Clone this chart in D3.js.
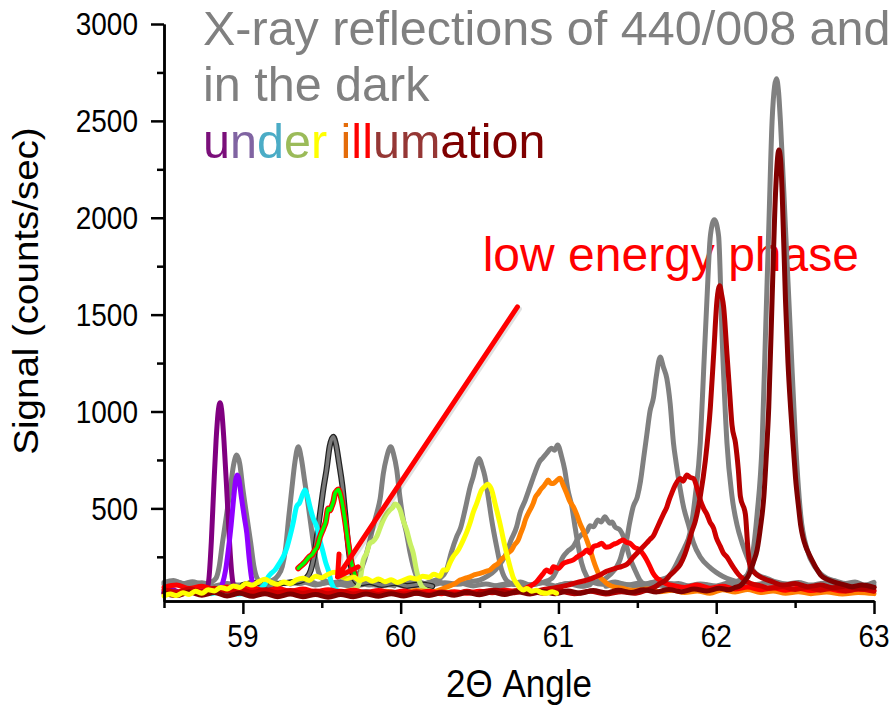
<!DOCTYPE html>
<html><head><meta charset="utf-8">
<script src="https://cdn.jsdelivr.net/npm/d3@7"></script>
<style>body{margin:0;background:#fff}svg{display:block}text{font-family:"Liberation Sans",Arial,Helvetica,sans-serif}</style>
</head><body><svg id="c" width="895" height="708"></svg>
<script>
// ---------- tick labels ----------
const xMajorTicks = [59, 60, 61, 62, 63];
const xMinorTicks = [58.5, 59.5, 60.5, 61.5, 62.5];
const yMajorTicks = [500, 1000, 1500, 2000, 2500, 3000];
const yMinorTicks = [250, 750, 1250, 1750, 2250, 2750];

// ---------- dark (grey) scans: [2theta, counts] ----------
const darkA = [[58.50,118],[58.56,128],[58.62,112],[58.68,122],[58.74,110],[58.80,120],[58.83,140],[58.85,200],[58.87,320],[58.89,430],[58.92,600],[58.94,720],[58.961,775],[58.98,730],[59.00,600],[59.03,430],[59.05,320],[59.07,200],[59.09,140],[59.12,118],[59.18,125],[59.24,110],[59.30,120],[59.36,112],[59.42,124],[59.48,108],[59.54,118],[59.60,105],[59.66,115],[59.72,102],[59.80,112],[59.88,100],[59.96,108],[60.04,98],[60.12,104],[60.20,96]];
const darkB = [[58.50,108],[58.58,120],[58.66,104],[58.74,116],[58.82,100],[58.90,112],[58.98,104],[59.06,118],[59.12,110],[59.18,125],[59.22,150],[59.25,200],[59.27,290],[59.29,450],[59.31,600],[59.33,740],[59.351,818],[59.37,760],[59.39,650],[59.41,540],[59.43,420],[59.45,300],[59.47,200],[59.49,150],[59.52,128],[59.56,115],[59.62,122],[59.68,108],[59.74,118],[59.80,104],[59.88,112],[59.96,100]];
const darkC = [[59.00,105],[59.08,115],[59.16,100],[59.24,112],[59.30,118],[59.36,125],[59.40,140],[59.43,180],[59.45,250],[59.47,360],[59.49,480],[59.51,600],[59.53,700],[59.55,820],[59.573,870],[59.59,830],[59.61,730],[59.63,620],[59.65,460],[59.67,290],[59.69,180],[59.71,130],[59.74,112],[59.80,120],[59.88,105],[59.96,115],[60.04,100],[60.12,108],[60.20,98]];
const darkD = [[59.30,110],[59.38,120],[59.46,105],[59.54,118],[59.60,110],[59.66,125],[59.70,140],[59.74,170],[59.77,230],[59.80,320],[59.83,420],[59.85,480],[59.87,550],[59.89,680],[59.91,760],[59.937,818],[59.955,780],[59.975,700],[59.995,560],[60.015,450],[60.035,380],[60.06,270],[60.08,200],[60.10,150],[60.13,118],[60.18,108],[60.24,120],[60.30,104],[60.38,114],[60.46,100],[60.54,110],[60.62,98],[60.70,108],[60.80,96]];
const darkE = [[59.60,112],[59.68,100],[59.76,115],[59.84,104],[59.92,118],[60.00,108],[60.08,120],[60.14,110],[60.20,125],[60.25,140],[60.29,180],[60.32,270],[60.355,354],[60.38,400],[60.41,500],[60.44,610],[60.46,664],[60.48,730],[60.498,758],[60.515,720],[60.534,664],[60.555,560],[60.577,440],[60.608,303],[60.64,182],[60.67,130],[60.71,112],[60.76,120],[60.82,105],[60.90,116],[60.98,100],[61.06,112],[61.14,98],[61.20,106]];
const darkF = [[60.20,104],[60.28,116],[60.36,108],[60.44,122],[60.50,130],[60.55,150],[60.60,182],[60.64,225],[60.67,268],[60.70,337],[60.735,405],[60.756,475],[60.79,543],[60.82,612],[60.85,681],[60.88,741],[60.90,760],[60.925,784],[60.957,810],[60.975,800],[60.995,827],[61.02,767],[61.04,698],[61.06,595],[61.085,509],[61.105,405],[61.126,303],[61.147,217],[61.18,147],[61.22,118],[61.28,108],[61.36,120],[61.44,104],[61.52,115],[61.60,100],[61.70,110],[61.80,98]];
const darkG = [[60.60,100],[60.70,112],[60.80,104],[60.90,118],[60.96,140],[61.00,200],[61.03,251],[61.06,280],[61.094,303],[61.12,340],[61.157,371],[61.18,380],[61.20,410],[61.221,405],[61.25,440],[61.27,430],[61.295,457],[61.31,440],[61.326,423],[61.34,430],[61.358,405],[61.39,388],[61.42,337],[61.45,251],[61.485,182],[61.516,130],[61.55,110],[61.60,118],[61.68,100],[61.76,112],[61.84,96],[61.92,106],[62.00,94],[62.10,104],[62.20,92]];
const darkH = [[61.00,102],[61.08,114],[61.16,100],[61.22,118],[61.28,130],[61.33,160],[61.37,200],[61.39,234],[61.41,290],[61.432,337],[61.45,420],[61.474,509],[61.50,560],[61.52,640],[61.54,760],[61.56,880],[61.58,1000],[61.602,1070],[61.62,1180],[61.645,1281],[61.665,1230],[61.687,1170],[61.708,1041],[61.729,838],[61.745,740],[61.761,654],[61.793,507],[61.825,414],[61.856,322],[61.899,249],[61.963,193],[62.00,170],[62.04,150],[62.10,130],[62.16,118],[62.24,106],[62.32,115],[62.40,100],[62.50,110],[62.60,95],[62.70,104],[62.80,92],[62.90,100],[63.00,94]];
const darkI = [[61.30,98],[61.40,110],[61.50,100],[61.58,114],[61.64,130],[61.70,150],[61.74,200],[61.77,250],[61.80,300],[61.835,378],[61.867,562],[61.899,838],[61.92,1207],[61.941,1575],[61.963,1907],[61.988,1990],[62.015,1907],[62.037,1391],[62.068,838],[62.10,562],[62.132,414],[62.164,322],[62.196,249],[62.238,175],[62.28,150],[62.323,138],[62.38,120],[62.45,110],[62.52,118],[62.60,104],[62.68,114],[62.76,100],[62.84,110],[62.92,98],[63.00,104]];
const darkJ = [[61.60,100],[61.70,112],[61.80,98],[61.90,110],[62.00,100],[62.06,112],[62.12,120],[62.16,135],[62.196,156],[62.228,249],[62.259,469],[62.291,838],[62.312,1391],[62.333,1944],[62.354,2497],[62.37,2680],[62.382,2718],[62.395,2650],[62.407,2497],[62.439,1944],[62.471,1391],[62.503,838],[62.535,469],[62.577,285],[62.63,193],[62.704,138],[62.76,125],[62.82,112],[62.88,120],[62.94,104],[63.00,118]];

// ---------- illuminated scans ----------
const litPurple = [[58.50,70],[58.55,82],[58.60,66],[58.65,78],[58.70,64],[58.74,75],[58.77,80],[58.785,140],[58.80,330],[58.815,600],[58.83,850],[58.845,1010],[58.855,1045],[58.865,1010],[58.88,850],[58.90,560],[58.915,330],[58.93,160],[58.945,90],[58.97,72],[59.02,80],[59.08,66],[59.14,76],[59.20,62],[59.28,72],[59.36,60],[59.44,70],[59.52,58],[59.60,66]];
const litViolet = [[58.50,62],[58.56,74],[58.62,60],[58.68,70],[58.74,58],[58.80,68],[58.84,72],[58.87,110],[58.89,180],[58.91,300],[58.925,410],[58.94,540],[58.955,650],[58.964,672],[58.975,650],[58.99,560],[59.01,450],[59.025,370],[59.04,240],[59.055,140],[59.07,90],[59.10,70],[59.16,78],[59.22,64],[59.30,72],[59.38,60],[59.46,68],[59.54,58],[59.62,66],[59.70,56],[59.80,62]];
const litCyan = [[58.80,60],[58.88,70],[58.96,58],[59.04,66],[59.10,80],[59.14,110],[59.161,147],[59.18,165],[59.203,182],[59.23,215],[59.256,251],[59.28,300],[59.298,354],[59.32,430],[59.34,509],[59.36,530],[59.38,575],[59.394,595],[59.41,560],[59.425,509],[59.445,450],[59.468,405],[59.49,330],[59.51,268],[59.525,220],[59.541,182],[59.56,120],[59.58,85],[59.62,70],[59.70,62],[59.78,70],[59.86,58],[59.94,66],[60.00,60]];
const litGreen = [[59.351,191],[59.37,205],[59.39,220],[59.404,234],[59.42,250],[59.44,262],[59.457,285],[59.47,300],[59.489,354],[59.51,397],[59.525,430],[59.541,500],[59.552,490],[59.562,509],[59.575,540],[59.584,578],[59.595,590],[59.605,598],[59.615,580],[59.626,543],[59.647,440],[59.668,320],[59.689,217],[59.71,156]];
const litLime = [[59.50,70],[59.58,62],[59.66,74],[59.72,90],[59.745,140],[59.763,234],[59.784,268],[59.805,320],[59.825,330],[59.848,354],[59.87,400],[59.89,440],[59.91,470],[59.93,490],[59.95,505],[59.964,523],[59.98,515],[59.996,492],[60.015,440],[60.038,388],[60.06,320],[60.08,268],[60.10,182],[60.12,120],[60.15,85],[60.20,72],[60.26,64],[60.32,70]];
const litYellow = [[58.50,48],[58.54,58],[58.58,50],[58.62,64],[58.66,56],[58.70,72],[58.74,62],[58.78,80],[58.82,74],[58.86,92],[58.90,84],[58.94,100],[58.98,92],[59.02,112],[59.06,104],[59.10,122],[59.14,134],[59.18,118],[59.22,108],[59.26,120],[59.30,112],[59.34,132],[59.38,140],[59.42,128],[59.46,150],[59.50,142],[59.54,160],[59.58,170],[59.62,150],[59.66,138],[59.70,146],[59.74,128],[59.78,138],[59.82,124],[59.86,136],[59.90,122],[59.94,132],[59.98,118],[60.02,130],[60.06,142],[60.10,136],[60.14,150],[60.18,144],[60.21,160],[60.25,150],[60.27,182],[60.292,182],[60.31,215],[60.333,251],[60.365,285],[60.397,337],[60.42,380],[60.439,423],[60.46,480],[60.482,526],[60.513,595],[60.53,610],[60.551,624],[60.565,615],[60.577,595],[60.598,526],[60.629,423],[60.661,303],[60.693,199],[60.715,140],[60.735,113],[60.755,90],[60.777,79],[60.80,86],[60.83,72],[60.861,78],[60.89,66],[60.925,62],[60.96,70],[60.988,62]];
const litOrange = [[59.80,60],[59.90,72],[60.00,62],[60.10,76],[60.20,68],[60.28,90],[60.34,110],[60.376,130],[60.41,140],[60.439,147],[60.47,158],[60.503,165],[60.54,175],[60.566,182],[60.59,200],[60.619,217],[60.64,238],[60.661,251],[60.68,270],[60.703,285],[60.72,310],[60.745,337],[60.76,370],[60.777,405],[60.79,440],[60.809,475],[60.825,500],[60.84,526],[60.855,560],[60.872,578],[60.89,600],[60.904,612],[60.92,630],[60.935,646],[60.95,630],[60.967,629],[60.985,640],[61.01,655],[61.03,620],[61.052,578],[61.07,540],[61.094,509],[61.115,470],[61.136,423],[61.16,380],[61.179,337],[61.20,290],[61.221,234],[61.24,190],[61.263,147],[61.29,125],[61.305,113],[61.34,98],[61.40,88],[61.48,76],[61.56,84],[61.64,70],[61.72,78],[61.80,66],[61.88,74],[61.96,62],[62.04,80],[62.12,68],[62.20,82],[62.28,66],[62.36,74],[62.44,62],[62.52,70],[62.60,60],[62.70,68],[62.80,58],[62.90,66],[63.00,60]];
const litRed = [[58.50,92],[58.58,104],[58.66,86],[58.74,98],[58.82,82],[58.90,94],[58.98,78],[59.06,90],[59.14,74],[59.22,86],[59.30,72],[59.38,84],[59.46,70],[59.54,80],[59.62,68],[59.70,78],[59.78,66],[59.86,76],[59.94,64],[60.02,74],[60.10,62],[60.18,72],[60.26,60],[60.34,70],[60.42,62],[60.50,72],[60.58,64],[60.66,78],[60.74,70],[60.80,90],[60.86,120],[60.90,160],[60.925,182],[60.95,170],[60.967,199],[61.00,190],[61.03,215],[61.06,225],[61.094,234],[61.12,250],[61.157,268],[61.18,285],[61.20,270],[61.221,303],[61.25,310],[61.274,320],[61.30,300],[61.326,303],[61.35,315],[61.369,320],[61.39,330],[61.411,337],[61.43,325],[61.453,320],[61.48,300],[61.516,285],[61.54,260],[61.559,234],[61.58,200],[61.60,165],[61.624,140],[61.643,130],[61.68,112],[61.74,100],[61.80,92],[61.88,104],[61.96,88],[62.04,98],[62.12,84],[62.20,94],[62.28,80],[62.36,90],[62.44,78],[62.52,88],[62.60,76],[62.70,86],[62.80,74],[62.90,84],[63.00,78]];
const litCrimson = [[58.50,80],[58.58,68],[58.66,84],[58.74,70],[58.82,88],[58.90,72],[58.98,84],[59.06,66],[59.14,80],[59.22,64],[59.30,76],[59.38,62],[59.46,74],[59.54,60],[59.62,72],[59.70,58],[59.78,70],[59.86,56],[59.94,68],[60.02,58],[60.10,70],[60.18,56],[60.26,68],[60.34,58],[60.42,72],[60.50,60],[60.58,74],[60.66,62],[60.74,76],[60.82,66],[60.90,80],[60.98,90],[61.06,104],[61.12,118],[61.18,130],[61.24,148],[61.263,156],[61.305,175],[61.369,193],[61.40,200],[61.433,211],[61.475,249],[61.517,285],[61.56,322],[61.58,340],[61.602,359],[61.62,390],[61.644,433],[61.665,470],[61.687,507],[61.70,540],[61.719,580],[61.74,620],[61.772,654],[61.79,640],[61.814,672],[61.835,660],[61.856,654],[61.88,600],[61.899,543],[61.92,500],[61.941,469],[61.96,430],[61.984,396],[62.00,350],[62.026,304],[62.045,270],[62.068,249],[62.09,220],[62.111,193],[62.14,160],[62.18,130],[62.22,112],[62.28,100],[62.34,88],[62.42,96],[62.50,82],[62.58,92],[62.66,78],[62.74,88],[62.82,74],[62.90,84],[63.00,72]];
const litDarkRed = [[60.50,66],[60.60,78],[60.70,64],[60.80,76],[60.90,62],[61.00,74],[61.10,60],[61.20,72],[61.30,58],[61.40,70],[61.48,62],[61.55,76],[61.60,90],[61.64,110],[61.68,130],[61.708,156],[61.74,180],[61.772,211],[61.80,260],[61.825,322],[61.845,380],[61.867,433],[61.899,562],[61.931,746],[61.963,1023],[61.984,1299],[62.005,1575],[62.022,1649],[62.035,1600],[62.047,1539],[62.068,1299],[62.085,1100],[62.10,930],[62.122,838],[62.14,700],[62.153,562],[62.185,469],[62.20,300],[62.217,193],[62.24,170],[62.259,156],[62.30,138],[62.36,120],[62.42,104],[62.50,112],[62.58,96],[62.66,104],[62.74,90],[62.82,98],[62.90,86],[63.00,92]];
const litMaroon = [[58.50,62],[58.58,50],[58.66,68],[58.74,52],[58.82,66],[58.90,48],[58.98,62],[59.06,46],[59.14,60],[59.22,44],[59.30,58],[59.38,44],[59.46,56],[59.54,42],[59.62,56],[59.70,44],[59.78,58],[59.86,46],[59.94,60],[60.02,48],[60.10,62],[60.18,50],[60.26,64],[60.34,52],[60.42,66],[60.50,54],[60.58,68],[60.66,56],[60.74,70],[60.82,58],[60.90,72],[60.98,60],[61.06,74],[61.14,62],[61.22,76],[61.30,64],[61.38,78],[61.46,66],[61.54,80],[61.62,68],[61.70,82],[61.78,70],[61.86,84],[61.94,74],[62.02,88],[62.08,80],[62.12,92],[62.153,101],[62.18,125],[62.206,156],[62.235,220],[62.259,285],[62.28,400],[62.302,562],[62.318,780],[62.333,1023],[62.354,1575],[62.376,2128],[62.397,2350],[62.408,2300],[62.418,2128],[62.439,1575],[62.455,1250],[62.471,1023],[62.49,800],[62.503,654],[62.52,520],[62.535,414],[62.55,350],[62.567,304],[62.585,270],[62.609,230],[62.635,190],[62.662,156],[62.70,135],[62.747,120],[62.80,108],[62.86,96],[62.92,104],[63.00,92]];

// annotation arrow (data coords): from [2theta, counts] to [2theta, counts]
const arrowFrom = [60.74, 1540];
const arrowTo = [59.60, 146];
const notePos = [60.52, 1725];

// ---------- styles ----------
const darkSeries = [darkA, darkB, darkD, darkE, darkF, darkG, darkH, darkI, darkJ];
const litSeries = [
  {d: litPurple, c: "#800080"},
  {d: litViolet, c: "#9000FF"},
  {d: litCyan, c: "#00FFFF"},
  {d: litLime, c: "#C8F064"},
  {d: litOrange, c: "#FF8000"},
  {d: litRed, c: "#FF0000"},
  {d: litCrimson, c: "#D00000"},
  {d: litDarkRed, c: "#B00000"},
  {d: litMaroon, c: "#800000"}
];
const titleLetters = [["u","#7A0F7A"],["n","#8064A2"],["d","#4BACC6"],["e","#9BBB59"],["r","#FFFF00"],[" ","#000"],["i","#E46C0A"],["l","#FF0000"],["l","#FF0000"],["u","#953735"],["m","#953735"],["ation","#7F0000"]];

const svg = d3.select("#c");
const x = d3.scaleLinear([58.5, 63], [164, 874]);
const y = d3.scaleLinear([22, 3000], [601, 24]);

// title (overlay text)
const title = svg.append("g").attr("font-size", 48.5);
title.append("text").attr("x", 203).attr("y", 45).attr("fill", "#808080").text("X-ray reflections of 440/008 and");
title.append("text").attr("x", 203).attr("y", 101).attr("fill", "#808080").text("in the dark");
const t3 = title.append("text").attr("x", 203).attr("y", 158).attr("xml:space", "preserve");
titleLetters.forEach(([s, c]) => t3.append("tspan").attr("fill", c).text(s));

// note text
svg.append("text").attr("x", x(notePos[0])).attr("y", y(notePos[1])).attr("font-size", 48).attr("fill", "#FF0000").text("low energy phase");

// curves
const line = d3.line().x(d => x(d[0])).y(d => y(d[1])).curve(d3.curveMonotoneX);
const gCurves = svg.append("g").attr("fill", "none").attr("stroke-linejoin", "round").attr("stroke-linecap", "round");
darkSeries.forEach(s => gCurves.append("path").attr("d", line(s)).attr("stroke", "#808080").attr("stroke-width", 5));
gCurves.append("path").attr("d", line(darkC)).attr("stroke", "#222").attr("stroke-width", 6);
gCurves.append("path").attr("d", line(darkC)).attr("stroke", "#7a7a7a").attr("stroke-width", 3.5);
litSeries.forEach((s, i) => {
  if (i === 3) {
    gCurves.append("path").attr("d", line(litGreen)).attr("stroke", "#FF0000").attr("stroke-width", 6);
    gCurves.append("path").attr("d", line(litGreen)).attr("stroke", "#00FF00").attr("stroke-width", 3.5);
  }
  gCurves.append("path").attr("d", line(s.d)).attr("stroke", s.c).attr("stroke-width", 5);
});
gCurves.append("path").attr("d", line(litYellow)).attr("stroke", "#FFFF00").attr("stroke-width", 5);

// axes
const xa = svg.append("g").attr("transform", "translate(0,601)");
xa.call(d3.axisBottom(x).tickValues(xMajorTicks).tickSize(13).tickSizeOuter(0).tickFormat(""));
xa.append("g").call(d3.axisBottom(x).tickValues(xMinorTicks).tickSize(7).tickSizeOuter(0).tickFormat(""));
const ya = svg.append("g").attr("transform", "translate(164,0)");
ya.call(d3.axisLeft(y).tickValues(yMajorTicks).tickSize(13).tickSizeOuter(0).tickFormat(""));
ya.append("g").call(d3.axisLeft(y).tickValues(yMinorTicks).tickSize(7).tickSizeOuter(0).tickFormat(""));
svg.selectAll(".domain, .tick line").attr("stroke", "#000").attr("stroke-width", 2.5);

// tick labels (slightly stretched vertically like the source)
xMajorTicks.forEach(v => svg.append("text").attr("text-anchor", "middle").attr("font-size", 28)
  .attr("transform", `translate(${x(v)},647) scale(1,1.12)`).text(v));
yMajorTicks.forEach(v => svg.append("text").attr("text-anchor", "end").attr("font-size", 28).attr("dy", "0.36em")
  .attr("transform", `translate(138,${y(v)}) scale(1,1.12)`).text(v));

// axis titles
svg.append("text").attr("text-anchor", "middle").attr("font-size", 35)
  .attr("transform", `translate(${(x.range()[0] + x.range()[1]) / 2},697) scale(1,1.12)`).text("2\u0398 Angle");
svg.append("text").attr("text-anchor", "middle").attr("font-size", 35)
  .attr("transform", "translate(38,291) scale(1,1.1) rotate(-90)").text("Signal (counts/sec)");

// arrow
const ax0 = x(arrowFrom[0]), ay0 = y(arrowFrom[1]), ax1 = x(arrowTo[0]), ay1 = y(arrowTo[1]);
const ang = Math.atan2(ay0 - ay1, ax0 - ax1), L = 23, spread = Math.PI / 6;
const p1 = [ax1 + L * Math.cos(ang - spread), ay1 + L * Math.sin(ang - spread)];
const p2 = [ax1 + L * Math.cos(ang + spread), ay1 + L * Math.sin(ang + spread)];
const ag = svg.append("g").attr("fill", "none").attr("stroke-linecap", "round").attr("stroke-linejoin", "round");
ag.append("path").attr("d", `M${ax0 + 2},${ay0 + 2}L${ax1 + 2},${ay1 + 2}M${p1[0] + 2},${p1[1] + 2}L${ax1 + 2},${ay1 + 2}L${p2[0] + 2},${p2[1] + 2}`)
  .attr("stroke", "rgba(0,0,0,0.12)").attr("stroke-width", 5);
ag.append("path").attr("d", `M${ax0},${ay0}L${ax1},${ay1}M${p1[0]},${p1[1]}L${ax1},${ay1}L${p2[0]},${p2[1]}`)
  .attr("stroke", "#FF0000").attr("stroke-width", 5);
</script></body></html>
